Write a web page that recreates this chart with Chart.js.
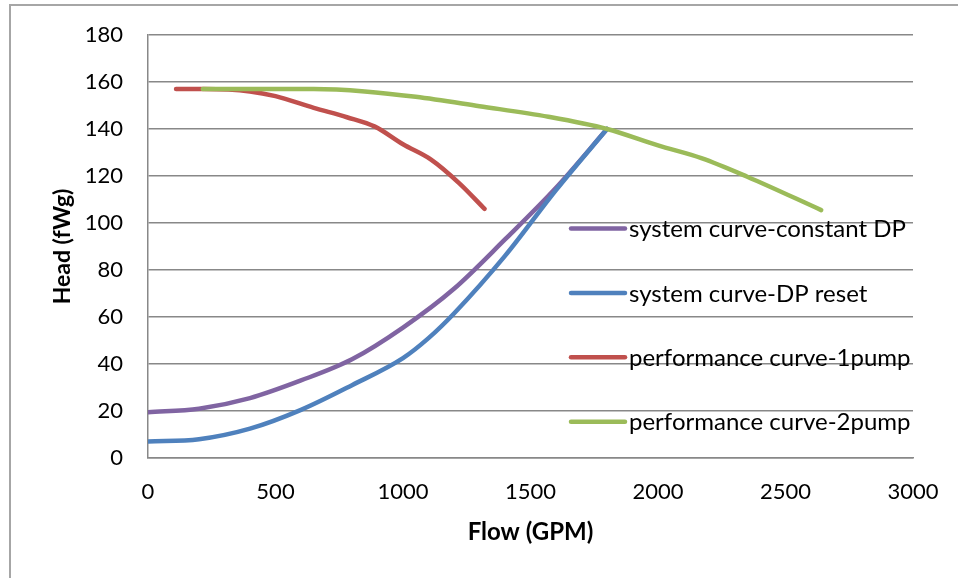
<!DOCTYPE html>
<html>
<head>
<meta charset="utf-8">
<script src="https://cdn.jsdelivr.net/npm/chart.js@4"></script>
<style>
  html, body { margin: 0; padding: 0; background: #fff; }
  #wrap { width: 958px; height: 578px; position: relative; }
</style>
</head>
<body>
<div id="wrap"><canvas id="myChart" width="958" height="578"></canvas></div>
<script>
// pump / system curves, flow in GPM, head in fWg
const constDpFlow = [0, 200, 400, 600, 800, 1000, 1200, 1400, 1600, 1800];
const constDpHead = [19.5, 21, 25.5, 33, 42, 55.5, 72, 93, 115, 140];

const dpResetFlow = [0, 200, 400, 600, 800, 1000, 1100, 1200, 1400, 1600, 1800];
const dpResetHead = [7, 8, 12.5, 20.5, 31, 42.5, 51, 61.5, 86, 114, 140];

const pump1Flow = [110, 220, 400, 500, 650, 780, 890, 1000, 1110, 1220, 1320];
const pump1Head = [157, 157, 156, 154, 149, 145, 141, 133.5, 127, 117, 106];

const pump2Flow = [215, 400, 650, 850, 1050, 1300, 1570, 1800, 2000, 2170, 2350, 2640];
const pump2Head = [157, 157, 157, 156, 153.7, 149.7, 145.2, 140, 133, 127.6, 119.7, 105.5];

const xTicks = [0, 500, 1000, 1500, 2000, 2500, 3000];
const yTicks = [0, 20, 40, 60, 80, 100, 120, 140, 160, 180];

const FONT = 'Lato';
const GRID = '#888888';

function toPoints(xs, ys) {
    return xs.map((x, i) => ({ x: x, y: ys[i] }));
}

function series(label, xs, ys, color, order) {
    return {
        label: label,
        data: toPoints(xs, ys),
        borderColor: color,
        backgroundColor: color,
        borderWidth: 4.5,
        borderCapStyle: 'round',
        borderJoinStyle: 'round',
        pointRadius: 0,
        cubicInterpolationMode: 'monotone',
        fill: false,
        order: order
    };
}

// outer frame of the chart object
const framePlugin = {
    id: 'frame',
    beforeDraw(chart) {
        const c = chart.ctx;
        c.save();
        c.fillStyle = '#fff';
        c.fillRect(0, 0, chart.width, chart.height);
        c.strokeStyle = '#a6a6a6';
        c.lineWidth = 2;
        c.beginPath();
        c.moveTo(10, chart.height + 2);
        c.lineTo(10, 5);
        c.lineTo(chart.width + 2, 5);
        c.stroke();
        c.restore();
    }
};

// legend drawn over the plot, one entry per row
const overlayLegend = {
    id: 'overlayLegend',
    afterDatasetsDraw(chart) {
        const c = chart.ctx;
        const x0 = 571, lineLen = 54, rowY = 228.5, step = 64.4;
        c.save();
        c.font = '24px ' + FONT;
        c.textBaseline = 'middle';
        c.textAlign = 'left';
        chart.data.datasets.forEach((ds, i) => {
            const y = rowY + i * step;
            c.strokeStyle = ds.borderColor;
            c.lineWidth = 4.5;
            c.lineCap = 'round';
            c.beginPath();
            c.moveTo(x0, y);
            c.lineTo(x0 + lineLen, y);
            c.stroke();
            c.fillStyle = '#000';
            c.fillText(ds.label, x0 + lineLen + 4, y + 1);
        });
        c.restore();
    }
};

const ctx = document.getElementById('myChart').getContext('2d');

const myChart = new Chart(ctx, {
    type: 'line',
    data: {
        datasets: [
            series('system curve-constant DP', constDpFlow, constDpHead, '#8064A2', 4),
            series('system curve-DP reset', dpResetFlow, dpResetHead, '#4F81BD', 3),
            series('performance curve-1pump', pump1Flow, pump1Head, '#C0504D', 2),
            series('performance curve-2pump', pump2Flow, pump2Head, '#9BBB59', 1)
        ]
    },
    options: {
        responsive: false,
        animation: false,
        layout: { padding: { top: 35, right: 45, left: 0, bottom: 0 } },
        scales: {
            x: {
                type: 'linear',
                min: 0,
                max: 3000,
                afterBuildTicks: s => { s.ticks = xTicks.map(v => ({ value: v })); },
                // fixed plot box: drop the label-driven side padding
                afterFit: s => { s.height = 120; s.paddingLeft = 0; s.paddingRight = 0; },
                grid: { display: false, drawTicks: false },
                border: { display: true, color: GRID, width: 1.5 },
                ticks: {
                    padding: 21,
                    color: '#000',
                    font: { family: FONT, size: 22 },
                    maxRotation: 0,
                    callback: v => String(v)
                },
                title: {
                    display: true,
                    text: 'Flow (GPM)',
                    color: '#000',
                    font: { family: FONT, size: 24, weight: 'bold' },
                    padding: { top: 0, bottom: 31 }
                }
            },
            y: {
                min: 0,
                max: 180,
                afterBuildTicks: s => { s.ticks = yTicks.map(v => ({ value: v })); },
                afterFit: s => { s.width = 148; s.paddingTop = 0; s.paddingBottom = 0; },
                grid: { color: GRID, lineWidth: 1.5, drawTicks: false },
                border: { display: true, color: GRID, width: 1.5 },
                ticks: { padding: 25, color: '#000', font: { family: FONT, size: 22 } },
                title: {
                    display: true,
                    text: 'Head (fWg)',
                    color: '#000',
                    font: { family: FONT, size: 23, weight: 'bold' },
                    padding: { top: 49, bottom: 0 }
                }
            }
        },
        plugins: {
            legend: { display: false },
            tooltip: { enabled: false }
        }
    },
    plugins: [framePlugin, overlayLegend]
});
</script>
</body>
</html>
